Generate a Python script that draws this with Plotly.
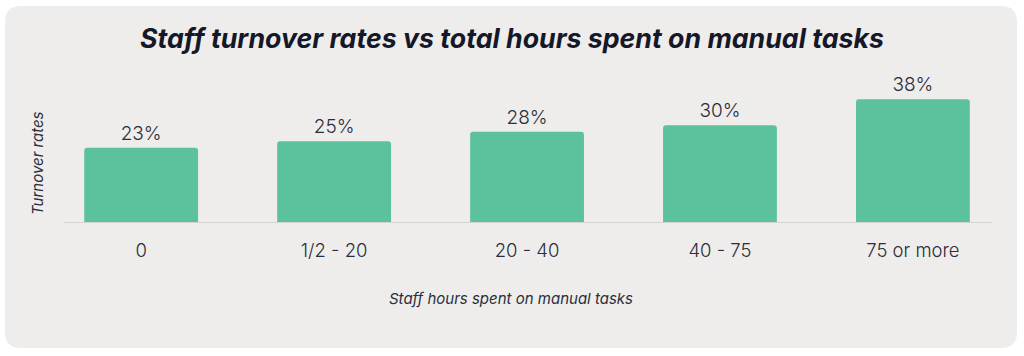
import plotly.graph_objects as go

categories = ["0", "1/2 - 20", "20 - 40", "40 - 75", "75 or more"]
turnover = [23, 25, 28, 30, 38]
labels = ["23%", "25%", "28%", "30%", "38%"]

title_text = "Staff turnover rates vs total hours spent on manual tasks"
x_title = "Staff hours spent on manual tasks"
y_title = "Turnover rates"

W, H = 1024, 356
ML, MR, MT, MB = 64, 32, 80, 134
PW, PH = W - ML - MR, H - MT - MB

def px(x):
    return (x - ML) / PW

def py(y):
    return (H - MB - y) / PH

# rounded panel
x0, x1, y0, y1, r = 5, 1017, 6, 348, 16
path = (
    f"M {px(x0 + r)} {py(y0)} L {px(x1 - r)} {py(y0)} "
    f"Q {px(x1)} {py(y0)} {px(x1)} {py(y0 + r)} "
    f"L {px(x1)} {py(y1 - r)} Q {px(x1)} {py(y1)} {px(x1 - r)} {py(y1)} "
    f"L {px(x0 + r)} {py(y1)} Q {px(x0)} {py(y1)} {px(x0)} {py(y1 - r)} "
    f"L {px(x0)} {py(y0 + r)} Q {px(x0)} {py(y0)} {px(x0 + r)} {py(y0)} Z"
)

FONT = "Inter, Roboto, sans-serif"
TXT = "#2b2e3c"

fig = go.Figure()
fig.add_trace(go.Bar(
    x=categories, y=turnover, text=labels, textposition="outside",
    textfont=dict(family=FONT, size=19, color=TXT, weight=300),
    marker=dict(color="#5bc29b", cornerradius=3, line=dict(width=0)),
    width=0.59, cliponaxis=False, hoverinfo="skip",
))

fig.update_layout(
    width=W, height=H,
    margin=dict(l=ML, r=MR, t=MT, b=MB),
    paper_bgcolor="white", plot_bgcolor="rgba(0,0,0,0)",
    showlegend=False,
    shapes=[dict(type="path", path=path, xref="paper", yref="paper",
                 fillcolor="#eeedeb", line=dict(width=0), layer="below")],
    xaxis=dict(range=[-0.4, 4.41], showline=True, linecolor="#d3d4d2", linewidth=1,
               showgrid=False, ticks="", ticklabelstandoff=12,
               tickfont=dict(family=FONT, size=18.5, color=TXT, weight=300)),
    yaxis=dict(range=[0, 44], showgrid=False, showticklabels=False, zeroline=False,
               showline=False, fixedrange=True),
    annotations=[
        dict(text=f"<b><i>{title_text}</i></b>", xref="paper", yref="paper",
             x=px(512), y=py(38), xanchor="center", yanchor="middle", showarrow=False,
             font=dict(family=FONT, size=26.7, color="#141828")),
        dict(text=f"<i>{x_title}</i>", xref="paper", yref="paper",
             x=px(511), y=py(298), xanchor="center", yanchor="middle", showarrow=False,
             font=dict(family=FONT, size=15, color=TXT)),
        dict(text=f"<i>{y_title}</i>", xref="paper", yref="paper", textangle=-90,
             x=px(37), y=py(163), xanchor="center", yanchor="middle", showarrow=False,
             font=dict(family=FONT, size=15, color=TXT)),
    ],
)

fig.write_html("out.html", config={"displayModeBar": False},
               post_script="document.body.style.margin='0';")
